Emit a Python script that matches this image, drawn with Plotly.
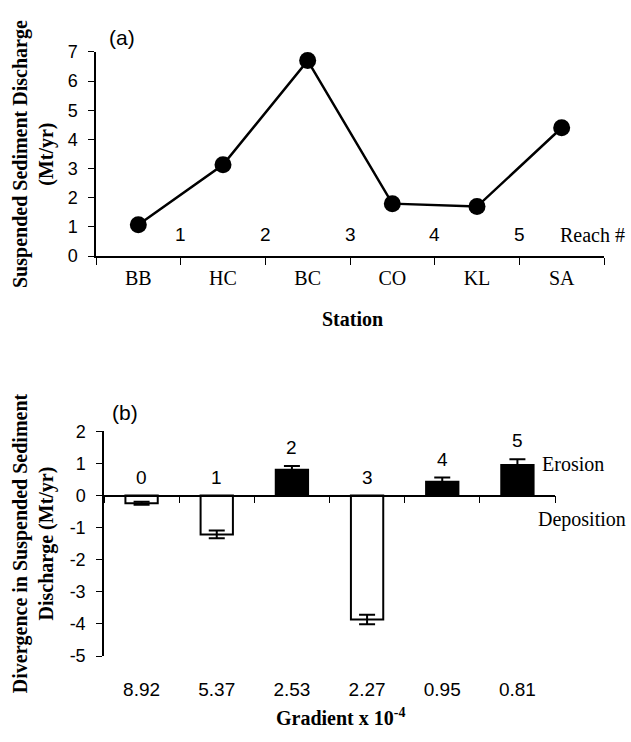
import plotly.graph_objects as go

# ---- data (panel a) ----
stations = ["BB", "HC", "BC", "CO", "KL", "SA"]
discharge = [1.08, 3.13, 6.7, 1.8, 1.7, 4.4]
reach_labels = ["1", "2", "3", "4", "5"]
y1_ticks = [0, 1, 2, 3, 4, 5, 6, 7]

# ---- data (panel b) ----
reach_ids = ["0", "1", "2", "3", "4", "5"]
gradients = ["8.92", "5.37", "2.53", "2.27", "0.95", "0.81"]
divergence = [-0.24, -1.21, 0.80, -3.86, 0.43, 0.95]
div_err = [0.05, 0.12, 0.12, 0.15, 0.13, 0.18]
y2_ticks = [2, 1, 0, -1, -2, -3, -4, -5]

W, H = 631, 742
SANS = "Liberation Sans, Arial, sans-serif"
SERIF = "Liberation Serif, Times New Roman, serif"

xa_dom = [96 / W, 604 / W]
ya_dom = [1 - 253 / H, 1 - 43 / H]
xb_dom = [104 / W, 555 / W]
yb_dom = [1 - 664 / H, 1 - 433 / H]
y1_range = [min(y1_ticks), max(y1_ticks)]
y2_range = [min(y2_ticks), max(y2_ticks)]

n = len(stations)
xs = list(range(n))
fig = go.Figure()

fig.add_trace(go.Scatter(
    x=xs, y=discharge, mode="lines+markers",
    line=dict(color="black", width=2.5),
    marker=dict(color="black", size=17),
    xaxis="x", yaxis="y", showlegend=False))

fills = ["black" if v > 0 else "white" for v in divergence]
fig.add_trace(go.Bar(
    x=list(range(len(divergence))), y=divergence, width=0.43,
    marker=dict(color=fills, line=dict(color="black", width=2)),
    error_y=dict(type="data", array=div_err, color="black", thickness=2, width=8),
    xaxis="x2", yaxis="y2", showlegend=False))

# invisible trace for the zero-line axis
fig.add_trace(go.Scatter(x=[0], y=[0], mode="markers", marker=dict(opacity=0),
                         xaxis="x3", yaxis="y2", showlegend=False, hoverinfo="skip"))

zero_pos = yb_dom[0] + (0 - y2_range[0]) / (y2_range[1] - y2_range[0]) * (yb_dom[1] - yb_dom[0])

def ann(**kw):
    base = dict(showarrow=False, xanchor="center", yanchor="middle")
    base.update(kw)
    return base

annotations = []
for i, lab in enumerate(reach_labels):
    annotations.append(ann(x=i + 0.5, y=0.73, xref="x", yref="y", text=lab,
                           font=dict(family=SANS, size=19, color="black")))
annotations.append(ann(x=627 / W, y=0.73, xref="paper", yref="y", text="Reach #",
                       xanchor="right", font=dict(family=SERIF, size=20, color="black")))

for i, (lab, v, e) in enumerate(zip(reach_ids, divergence, div_err)):
    ytop = v + e if v > 0 else 0
    annotations.append(ann(x=i, y=ytop, xref="x2", yref="y2", text=lab, yanchor="bottom",
                           yshift=6, font=dict(family=SANS, size=19, color="black")))

annotations += [
    ann(x=540 / W, y=1 - 467 / H, xref="paper", yref="paper", text="Erosion",
        xanchor="left", font=dict(family=SERIF, size=20, color="black")),
    ann(x=536 / W, y=1 - 524 / H, xref="paper", yref="paper", text="Deposition",
        xanchor="left", font=dict(family=SERIF, size=20, color="black")),
    ann(x=122 / W, y=1 - 28 / H, xref="paper", yref="paper", text="(a)",
        font=dict(family=SANS, size=21, color="black")),
    ann(x=125 / W, y=1 - 414 / H, xref="paper", yref="paper", text="(b)",
        font=dict(family=SANS, size=21, color="black")),
    ann(x=352 / W, y=1 - 318 / H, xref="paper", yref="paper", text="<b>Station</b>",
        font=dict(family=SERIF, size=20, color="black")),
    ann(x=340 / W, y=0.002, xref="paper", yref="paper", yanchor="bottom",
        text="<b>Gradient x 10<sup>-4</sup></b>",
        font=dict(family=SERIF, size=20, color="black")),
    ann(x=33 / W, y=1 - 148 / H, xref="paper", yref="paper", textangle=-90,
        text="<b>Suspended Sediment Discharge<br>(Mt/yr)</b>",
        font=dict(family=SERIF, size=20, color="black")),
    ann(x=33 / W, y=1 - 548 / H, xref="paper", yref="paper", textangle=-90,
        text="<b>Divergence in Suspended Sediment<br>Discharge (Mt/yr)</b>",
        font=dict(family=SERIF, size=20, color="black")),
]

yaxis_common = dict(showline=True, linecolor="black", linewidth=1.5, ticks="outside",
                    ticklen=6, tickcolor="black", showgrid=False, zeroline=False,
                    ticklabelstandoff=7,
                    tickfont=dict(family=SANS, size=18, color="black"))

fig.update_layout(
    width=W, height=H, autosize=False,
    margin=dict(l=0, r=0, t=0, b=0),
    paper_bgcolor="white", plot_bgcolor="white",
    xaxis=dict(domain=xa_dom, anchor="y", range=[-0.5, n - 0.5],
               tickmode="array", tickvals=xs, ticktext=stations, ticks="",
               ticklabelstandoff=3,
               minor=dict(tickmode="linear", tick0=-0.5, dtick=1, ticks="outside",
                          ticklen=7, tickcolor="black", showgrid=False),
               showline=True, linecolor="black", linewidth=1.5, showgrid=False,
               zeroline=False, tickfont=dict(family=SERIF, size=20, color="black")),
    yaxis=dict(domain=ya_dom, anchor="x", range=y1_range, tickmode="array",
               tickvals=y1_ticks, ticktext=[str(t) for t in y1_ticks], **yaxis_common),
    xaxis2=dict(domain=xb_dom, anchor="y2", range=[-0.5, n - 0.5],
                tickmode="array", tickvals=xs, ticktext=gradients, ticks="",
                ticklabelstandoff=20, showline=False, showgrid=False, zeroline=False,
                tickfont=dict(family=SANS, size=19, color="black")),
    xaxis3=dict(overlaying="x2", anchor="free", position=zero_pos,
                range=[-0.5, n - 0.5], tickmode="linear", tick0=-0.5, dtick=1,
                ticks="outside", ticklen=7, tickcolor="black", showticklabels=False,
                showline=True, linecolor="black", linewidth=1.5, showgrid=False,
                zeroline=False),
    yaxis2=dict(domain=yb_dom, anchor="x2", range=y2_range, tickmode="array",
                tickvals=y2_ticks, ticktext=[str(t) for t in y2_ticks], **yaxis_common),
    annotations=annotations,
)

fig.write_html(
    "out.html",
    config={"displayModeBar": False},
    post_script="document.body.style.margin='0';document.body.style.overflow='hidden';",
)
